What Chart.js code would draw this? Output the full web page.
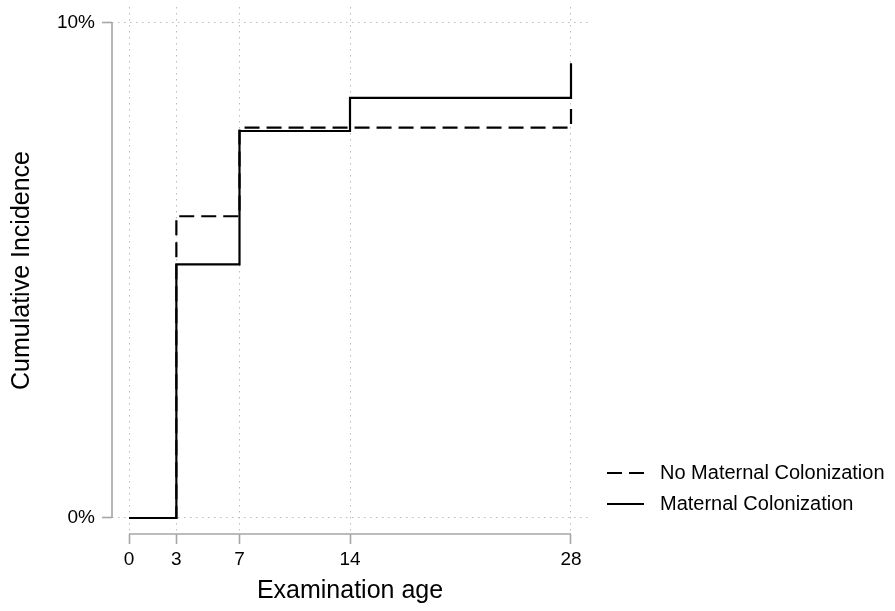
<!DOCTYPE html>
<html>
<head>
<meta charset="utf-8">
<title>Cumulative Incidence</title>
<script src="https://cdn.jsdelivr.net/npm/chart.js@4.4.0/dist/chart.umd.min.js"></script>
<style>
  body { margin: 0; background: #fff; }
  #wrap { width: 895px; height: 611px; }
</style>
</head>
<body>
<div id="wrap"><canvas id="incidenceChart" width="895" height="611"></canvas></div>
<script>
// === Data ===
const examDays = [0, 3, 7, 14, 28];
const noMaternal = [0, 6.09, 7.88, 7.88, 8.33];
const maternal = [0, 5.12, 7.81, 8.48, 9.18];
const xTicks = [0, 3, 7, 14, 28];
const yTicks = [0, 10];
const seriesLabels = ["No Maternal Colonization", "Maternal Colonization"];

const AXIS_GREY = "#a6a6a6";
const GRID_GREY = "#bdbdbd";
const FONT = "'Liberation Sans', Arial, Helvetica, sans-serif";
const DASH = [15, 7];

Chart.defaults.font.family = FONT;
Chart.defaults.color = "#000";

const toPoints = (vals) => examDays.map((d, i) => ({ x: d, y: vals[i] }));

// === Detached axis lines (Stata style), drawn from the scales ===
const axisLines = {
  id: "axisLines",
  beforeDatasetsDraw(chart) {
    const { ctx, chartArea, scales: { x, y } } = chart;
    ctx.save();
    ctx.strokeStyle = AXIS_GREY;
    ctx.lineWidth = 1.6;
    ctx.beginPath();
    ctx.moveTo(chartArea.left, y.getPixelForValue(yTicks[yTicks.length - 1]));
    ctx.lineTo(chartArea.left, y.getPixelForValue(yTicks[0]));
    ctx.moveTo(x.getPixelForValue(xTicks[0]), chartArea.bottom);
    ctx.lineTo(x.getPixelForValue(xTicks[xTicks.length - 1]), chartArea.bottom);
    ctx.stroke();
    ctx.restore();
  },
};

// === Legend at lower right ===
const sideLegend = {
  id: "sideLegend",
  afterDraw(chart) {
    const { ctx } = chart;
    const rows = [473, 504];
    ctx.save();
    chart.data.datasets.forEach((ds, i) => {
      const y = rows[i];
      ctx.strokeStyle = ds.borderColor;
      ctx.lineWidth = ds.borderWidth;
      ctx.setLineDash(ds.borderDash || []);
      ctx.beginPath();
      ctx.moveTo(607, y);
      ctx.lineTo(644, y);
      ctx.stroke();
      ctx.setLineDash([]);
      ctx.fillStyle = "#000";
      ctx.font = `20px ${FONT}`;
      ctx.textBaseline = "middle";
      ctx.textAlign = "left";
      ctx.fillText(ds.label, 660, y);
    });
    ctx.restore();
  },
};

const gridOpts = {
  color: GRID_GREY,
  lineWidth: 1,
  drawTicks: true,
  tickLength: 10,
  tickColor: AXIS_GREY,
  tickWidth: 1.6,
  tickBorderDash: [],
};

new Chart(document.getElementById("incidenceChart"), {
  type: "line",
  data: {
    datasets: [
      {
        label: seriesLabels[0],
        data: toPoints(noMaternal),
        borderColor: "#000",
        borderWidth: 2.2,
        borderDash: DASH,
        stepped: true,
        pointRadius: 0,
        fill: false,
      },
      {
        label: seriesLabels[1],
        data: toPoints(maternal),
        borderColor: "#000",
        borderWidth: 2.2,
        stepped: true,
        pointRadius: 0,
        fill: false,
      },
    ],
  },
  options: {
    responsive: false,
    animation: false,
    layout: { padding: { top: 7, right: 307, bottom: 0, left: 0 } },
    plugins: {
      legend: { display: false },
      tooltip: { enabled: false },
    },
    scales: {
      x: {
        type: "linear",
        min: -1.077,
        max: 29.077,
        afterBuildTicks: (s) => { s.ticks = xTicks.map((v) => ({ value: v })); },
        afterFit: (s) => { s.height = 77; s.paddingLeft = 0; s.paddingRight = 0; },
        grid: gridOpts,
        border: { display: false, dash: [1.5, 4.5] },
        ticks: { font: { size: 19 }, padding: 4, color: "#000", maxRotation: 0, callback: (v) => v },
        title: {
          display: true,
          text: "Examination age",
          font: { size: 25 },
          color: "#000",
          padding: { top: 0, bottom: 5 },
        },
      },
      y: {
        min: -0.323,
        max: 10.313,
        afterBuildTicks: (s) => { s.ticks = yTicks.map((v) => ({ value: v })); },
        afterFit: (s) => { s.width = 112; s.paddingTop = 0; s.paddingBottom = 0; },
        grid: gridOpts,
        border: { display: false, dash: [1.5, 4.5] },
        ticks: { font: { size: 19 }, padding: 7, color: "#000", callback: (v) => v + "%" },
        title: {
          display: true,
          text: "Cumulative Incidence",
          font: { size: 25 },
          color: "#000",
          padding: { top: 7, bottom: 0 },
        },
      },
    },
  },
  plugins: [axisLines, sideLegend],
});
</script>
</body>
</html>
